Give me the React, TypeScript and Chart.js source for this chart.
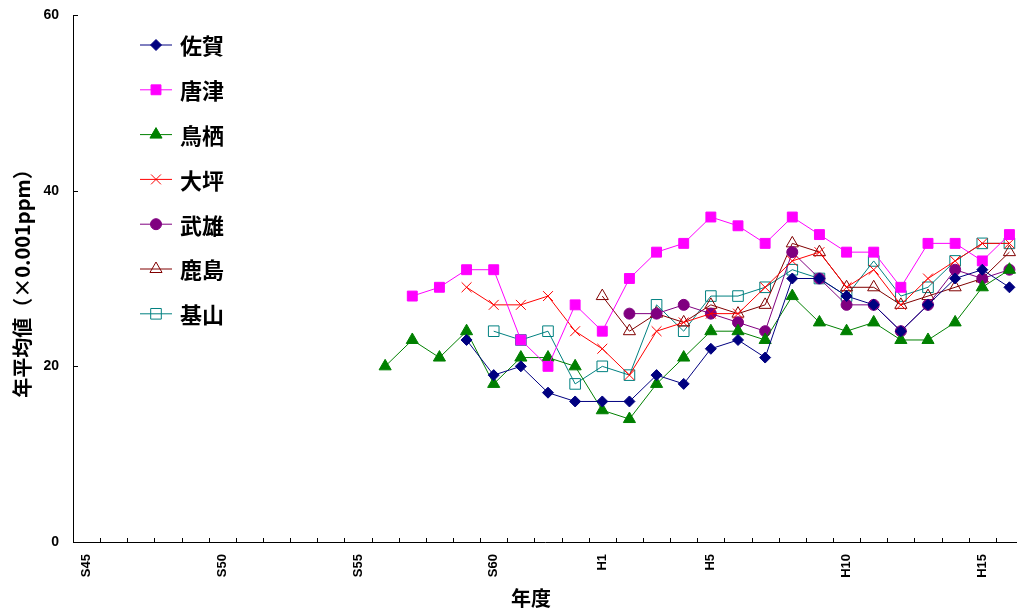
import React, { useEffect, useRef } from 'react';
import { Chart, registerables } from 'chart.js';

Chart.register(...registerables);

const categories = [
  'S45', 'S46', 'S47', 'S48', 'S49', 'S50', 'S51', 'S52', 'S53', 'S54',
  'S55', 'S56', 'S57', 'S58', 'S59', 'S60', 'S61', 'S62', 'S63',
  'H1', 'H2', 'H3', 'H4', 'H5', 'H6', 'H7', 'H8', 'H9', 'H10',
  'H11', 'H12', 'H13', 'H14', 'H15', 'H16',
];
const shownLabels = ['S45', 'S50', 'S55', 'S60', 'H1', 'H5', 'H10', 'H15'];
const yTicks = [0, 20, 40, 60];
const xTitle = '年度';
const yTitle = '年平均値（×0.001ppm）';

const sagaStart = 'S59';
const saga = [23, 19, 20, 17, 16, 16, 16, 19, 18, 22, 23, 21, 30, 30, 28, 27, 24, 27, 30, 31, 29];
const karatsuStart = 'S57';
const karatsu = [28, 29, 31, 31, 23, 20, 27, 24, 30, 33, 34, 37, 36, 34, 37, 35, 33, 33, 29, 34, 34, 32, 35];
const tosuStart = 'S56';
const tosu = [20, 23, 21, 24, 18, 21, 21, 20, 15, 14, 18, 21, 24, 24, 23, 28, 25, 24, 25, 23, 23, 25, 29, 31];
const otsuboStart = 'S59';
const otsubo = [29, 27, 27, 28, 24, 22, 19, 24, 25, 26, 26, 29, 32, 33, 29, 31, 27, 30, 32, 34, 34];
const takeoStart = 'H2';
const takeo = [26, 26, 27, 26, 25, 24, 33, 30, 27, 27, 24, 27, 31, 30, 31];
const kashimaStart = 'H1';
const kashima = [28, 24, 26, 25, 27, 26, 27, 34, 33, 29, 29, 27, 28, 29, 30, 33];
const kiyamaStart = 'S60';
const kiyama = [24, 23, 24, 18, 20, 19, 27, 24, 28, 28, 29, 31, 30, 28, 32, 28, 29, 32, 34, 34];

const seriesNames = ['佐賀', '唐津', '鳥栖', '大坪', '武雄', '鹿島', '基山'];

function pad(start: string, values: number[]): (number | null)[] {
  const s = categories.indexOf(start);
  return categories.map((_, i) => (i >= s && i - s < values.length ? values[i - s] : null));
}

const NUM_FONT = "'Liberation Sans', Arial, sans-serif";
const JP_FONT = "'Noto Sans CJK JP', 'Noto Sans CJK SC', sans-serif";

type Style = { color: string; point: string; radius: number; fill: string };
const styles: Style[] = [
  { color: '#000080', point: 'rectRot', radius: 5.5, fill: '#000080' },
  { color: '#FF00FF', point: 'rect', radius: 7, fill: '#FF00FF' },
  { color: '#008000', point: 'triangle', radius: 7, fill: '#008000' },
  { color: '#FF0000', point: 'crossRot', radius: 7, fill: 'rgba(0,0,0,0)' },
  { color: '#800080', point: 'circle', radius: 5.5, fill: '#800080' },
  { color: '#800000', point: 'triangle', radius: 7, fill: 'rgba(0,0,0,0)' },
  { color: '#008080', point: 'rect', radius: 7.5, fill: 'rgba(0,0,0,0)' },
];

function drawMarker(ctx: CanvasRenderingContext2D, st: Style, x: number, y: number) {
  const r = st.radius;
  ctx.save();
  ctx.beginPath();
  ctx.lineWidth = 1;
  ctx.strokeStyle = st.color;
  ctx.fillStyle = st.fill;
  switch (st.point) {
    case 'rectRot':
      ctx.moveTo(x, y - r);
      ctx.lineTo(x + r, y);
      ctx.lineTo(x, y + r);
      ctx.lineTo(x - r, y);
      ctx.closePath();
      break;
    case 'rect': {
      const s = r * Math.SQRT1_2;
      ctx.rect(x - s, y - s, 2 * s, 2 * s);
      break;
    }
    case 'triangle': {
      let a = 0;
      ctx.moveTo(x + Math.sin(a) * r, y - Math.cos(a) * r);
      a += (2 * Math.PI) / 3;
      ctx.lineTo(x + Math.sin(a) * r, y - Math.cos(a) * r);
      a += (2 * Math.PI) / 3;
      ctx.lineTo(x + Math.sin(a) * r, y - Math.cos(a) * r);
      ctx.closePath();
      break;
    }
    case 'crossRot': {
      const o = r * Math.SQRT1_2;
      ctx.moveTo(x - o, y - o);
      ctx.lineTo(x + o, y + o);
      ctx.moveTo(x - o, y + o);
      ctx.lineTo(x + o, y - o);
      break;
    }
    case 'circle':
      ctx.arc(x, y, r, 0, Math.PI * 2);
      ctx.closePath();
      break;
  }
  if (st.point !== 'crossRot') ctx.fill();
  ctx.stroke();
  ctx.restore();
}

// The plot area of the original extends a little past the right edge of the picture.
const PLOT_RIGHT = 1023;

const decorPlugin = {
  id: 'decor',
  afterLayout(chart: any) {
    const xs = chart.scales.x;
    const area = chart.chartArea;
    area.right = PLOT_RIGHT;
    area.width = PLOT_RIGHT - area.left;
    xs.right = PLOT_RIGHT;
    xs.width = PLOT_RIGHT - xs.left;
    xs.configure();
  },
  afterDraw(chart: any) {
    const ctx: CanvasRenderingContext2D = chart.ctx;
    const { left, right, bottom } = chart.chartArea;
    const n = categories.length;
    ctx.save();
    ctx.strokeStyle = '#000';
    ctx.lineWidth = 1;
    ctx.beginPath();
    for (let i = 0; i <= n; i++) {
      const x = Math.round(left + (i * (right - left)) / n) + 0.5;
      ctx.moveTo(x, bottom);
      ctx.lineTo(x, bottom - 4);
    }
    const ys = chart.scales.y;
    yTicks.forEach((v) => {
      const y = Math.round(ys.getPixelForValue(v)) + 0.5;
      ctx.moveTo(left, y);
      ctx.lineTo(left + 5, y);
    });
    ctx.stroke();
    ctx.restore();

    // x axis title (the original is centred on the visible part of the axis)
    ctx.save();
    ctx.fillStyle = '#000';
    ctx.font = `bold 20px ${JP_FONT}`;
    ctx.textAlign = 'center';
    ctx.textBaseline = 'middle';
    ctx.fillText(xTitle, 531, 598);
    ctx.restore();

    // legend
    const lx0 = 140;
    const lx1 = 172;
    const tx = 180;
    seriesNames.forEach((name, i) => {
      const y = 45 + i * 44.8;
      const st = styles[i];
      ctx.save();
      ctx.strokeStyle = st.color;
      ctx.lineWidth = 1;
      ctx.beginPath();
      ctx.moveTo(lx0, y);
      ctx.lineTo(lx1, y);
      ctx.stroke();
      ctx.restore();
      drawMarker(ctx, st, (lx0 + lx1) / 2, y);
      ctx.save();
      ctx.fillStyle = '#000';
      ctx.font = `bold 22px ${JP_FONT}`;
      ctx.textBaseline = 'middle';
      ctx.textAlign = 'left';
      ctx.fillText(name, tx, y + 1);
      ctx.restore();
    });
  },
};

function zeroPad(scale: any) {
  scale.paddingLeft = 0;
  scale.paddingRight = 0;
  scale.paddingTop = 0;
  scale.paddingBottom = 0;
}

export default function App() {
  const ref = useRef<HTMLCanvasElement | null>(null);
  useEffect(() => {
    if (!ref.current) return;
    const seriesData = [
      pad(sagaStart, saga),
      pad(karatsuStart, karatsu),
      pad(tosuStart, tosu),
      pad(otsuboStart, otsubo),
      pad(takeoStart, takeo),
      pad(kashimaStart, kashima),
      pad(kiyamaStart, kiyama),
    ];
    const chart = new Chart(ref.current, {
      type: 'line',
      data: {
        labels: categories,
        datasets: seriesNames.map((name, i) => ({
          label: name,
          data: seriesData[i],
          borderColor: styles[i].color,
          backgroundColor: styles[i].fill,
          borderWidth: 1,
          pointStyle: styles[i].point as any,
          pointRadius: styles[i].radius,
          pointBorderColor: styles[i].color,
          pointBackgroundColor: styles[i].fill,
          pointBorderWidth: 1,
          tension: 0,
          spanGaps: false,
          fill: false,
          clip: false as any,
        })),
      },
      options: {
        animation: false,
        responsive: false,
        maintainAspectRatio: false,
        layout: { autoPadding: false, padding: { left: 0, right: 0, top: 15, bottom: 0 } },
        plugins: {
          legend: { display: false },
          tooltip: { enabled: false },
        },
        scales: {
          x: {
            type: 'category',
            offset: true,
            grid: { display: false, drawTicks: false, offset: true },
            border: { display: true, color: '#000', width: 1 },
            ticks: {
              autoSkip: false,
              maxRotation: 90,
              minRotation: 90,
              padding: 12,
              color: '#000',
              font: { family: NUM_FONT, size: 13, weight: 'bold' },
              callback: (_v: any, idx: number) =>
                shownLabels.includes(categories[idx]) ? categories[idx] : '',
            },
            title: { display: false },
            afterFit: (scale: any) => {
              scale.height = 69;
              zeroPad(scale);
            },
          },
          y: {
            min: 0,
            max: 60,
            grid: { display: false, drawTicks: false },
            border: { display: true, color: '#000', width: 1 },
            ticks: {
              stepSize: 20,
              padding: 14,
              color: '#000',
              font: { family: NUM_FONT, size: 14, weight: 'bold' },
            },
            title: {
              display: true,
              text: yTitle,
              color: '#000',
              font: { family: JP_FONT, size: 20, weight: 'bold', lineHeight: 1.2 },
              padding: { top: 10, bottom: 0 },
            },
            afterFit: (scale: any) => {
              scale.width = 73;
              zeroPad(scale);
            },
          },
        },
      },
      plugins: [decorPlugin],
    });
    return () => chart.destroy();
  }, []);
  return (
    <div style={{ position: 'fixed', left: 0, top: 0, width: 1017, height: 611, background: '#fff' }}>
      <canvas ref={ref} width={1017} height={611} style={{ display: 'block' }} />
    </div>
  );
}
